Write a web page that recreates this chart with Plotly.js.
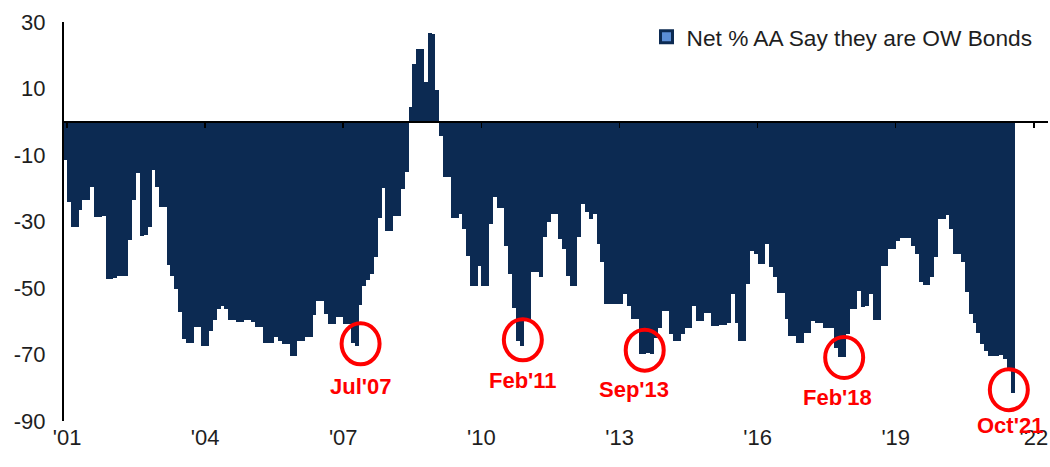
<!DOCTYPE html>
<html>
<head>
<meta charset="utf-8">
<script src="https://cdn.plot.ly/plotly-3.0.1.min.js"></script>
<style>
  html, body { margin: 0; padding: 0; background: #ffffff; }
  #chart { width: 1050px; height: 467px; }
</style>
</head>
<body>
<div id="chart"></div>
<script>
// ---- DATA (monthly, Mar 2001 – Oct 2021) ----
const seriesName = 'Net % AA Say they are OW Bonds';
const firstYear = 2001;
const firstMonthIndex = 2; // March (0-based)

const owBonds2001_2005 = [
  -11.5, -24.2, -31.6, -31.6, -26.6, -23.5, -23.5, -19.5, -28.5, -28.5,
  -28.3, -47.3, -47.2, -47.0, -46.4, -46.4, -46.3, -35.5, -23.4, -15.4, -34.3, -34.2,
  -31.6, -14.5, -19.5, -25.5, -25.5, -43.2, -46.5, -50.2, -57.3, -65.3, -66.6, -66.6,
  -61.8, -61.8, -67.5, -67.5, -63.0, -59.6, -56.3, -55.5, -56.3, -59.6, -59.6, -60.3,
  -60.3, -59.6, -59.6, -60.3, -61.8, -61.8, -66.6, -66.6, -66.6, -64.8, -65.8, -66.8
];
const owBonds2006_2010 = [
  -66.8, -70.3, -70.3, -65.8, -65.8, -64.8, -64.8, -58.0, -53.8, -53.8, -57.8, -60.8,
  -60.8, -58.8, -58.8, -60.8, -60.8, -66.5, -67.4, -55.0, -49.3, -47.5, -45.7, -40.8,
  -29.0, -20.0, -33.0, -33.0, -28.4, -28.4, -20.2, -15.2, 4.4, 17.4, 22.0, 22.0,
  11.9, 26.8, 26.5, 9.6, -4.2, -16.7, -16.7, -28.8, -28.8, -27.7, -32.3, -40.3,
  -49.3, -49.3, -43.4, -49.3, -49.3, -30.8, -22.7, -25.8, -25.8, -37.3, -45.8, -55.9
];
const owBonds2011_2015 = [
  -66.0, -67.4, -59.4, -59.4, -45.3, -45.3, -46.8, -34.8, -30.0, -27.7, -27.7, -35.3,
  -38.3, -46.3, -49.3, -49.3, -34.8, -24.7, -27.0, -29.2, -27.7, -36.8, -42.3, -54.9,
  -54.9, -54.9, -54.9, -54.9, -51.8, -55.5, -59.4, -59.4, -69.9, -69.9, -69.5, -69.9,
  -64.9, -61.9, -56.9, -56.9, -63.9, -65.9, -65.9, -63.9, -61.9, -61.9, -55.4, -59.9,
  -59.9, -57.4, -57.4, -61.4, -61.4, -61.0, -61.0, -60.5, -51.8, -60.4, -65.9, -65.9
];
const owBonds2016_2021 = [
  -48.8, -38.8, -39.8, -42.8, -42.8, -36.8, -43.8, -46.8, -51.4, -51.4, -59.4, -64.4,
  -64.4, -66.4, -66.4, -63.4, -63.4, -59.9, -60.4, -60.4, -61.9, -61.9, -61.9, -67.9,
  -70.9, -70.9, -63.9, -56.4, -56.4, -50.8, -55.6, -55.4, -51.8, -59.7, -59.7, -43.3,
  -43.3, -38.3, -38.3, -35.8, -35.0, -35.0, -35.0, -37.3, -39.8, -48.3, -49.1, -49.1,
  -46.8, -40.8, -29.3, -29.3, -28.0, -32.3, -39.8, -39.8, -42.3, -51.3, -57.7, -60.4,
  -63.4, -66.9, -68.9, -70.4, -70.4, -70.4, -70.0, -71.4, -74.4, -81.5
];

const yTickValues = [30, 10, -10, -30, -50, -70, -90];
const yTickLabels = ['30', '10', '-10', '-30', '-50', '-70', '-90'];
const xTickYears  = [2001, 2004, 2007, 2010, 2013, 2016, 2019, 2022];
const xTickLabels = ["'01", "'04", "'07", "'10", "'13", "'16", "'19", "'22"];

const callouts = [
  { label: "Jul'07", month: '2007-07' },
  { label: "Feb'11", month: '2011-02' },
  { label: "Sep'13", month: '2013-09' },
  { label: "Feb'18", month: '2018-02' },
  { label: "Oct'21", month: '2021-10' }
];

// ---- BUILD ----
const values = [].concat(owBonds2001_2005, owBonds2006_2010, owBonds2011_2015, owBonds2016_2021);
const pad = n => (n < 10 ? '0' : '') + n;
const monthKeys = values.map((_, i) => {
  const m = firstMonthIndex + i;
  return (firstYear + Math.floor(m / 12)) + '-' + pad(m % 12 + 1);
});
const xDates = monthKeys.map(k => k + '-16');
const xTickVals = xTickYears.map(y => y + '-04-01');

// styles
const NAVY = '#0C2A52';
const RED = '#FF0000';
const TEXT = '#1e1e1e';
const FONT = 'Liberation Sans, Arial, sans-serif';
const DAY = 24 * 3600 * 1000;
const xRange = ['2001-03-08', '2022-07-22'];
const circleOffsets = [[4, 2], [1, 6], [4, 4], [0, 0], [-4, 3]];   // px shift (right, up)
const labelOffsets  = [[4, -41], [1, -35], [-7, -35], [-7, -40], [-3, -33]];

const traces = [
  {
    type: 'bar', x: xDates, y: values, name: seriesName, showlegend: false,
    width: 31 * DAY, marker: { color: NAVY, line: { width: 0 } },
    hoverinfo: 'x+y'
  },
  {
    // legend swatch only (zero-height bar on the zero-line axis)
    type: 'bar', x: [xDates[0]], y: [0], name: seriesName, xaxis: 'x2', showlegend: true,
    marker: { color: '#5B8ED6', line: { color: NAVY, width: 3 } }, hoverinfo: 'skip'
  }
];

const shapes = [];
const annotations = [];
callouts.forEach((c, k) => {
  const idx = monthKeys.indexOf(c.month);
  const xv = xDates[idx], yv = values[idx];
  const [cdx, cdy] = circleOffsets[k];
  shapes.push({
    type: 'circle', xref: 'x', yref: 'y', xsizemode: 'pixel', ysizemode: 'pixel',
    xanchor: xv, yanchor: yv,
    x0: cdx - 19, x1: cdx + 19, y0: cdy - 20.5, y1: cdy + 20.5,
    line: { color: RED, width: 4 }, fillcolor: 'rgba(0,0,0,0)', layer: 'above'
  });
  const [ldx, ldy] = labelOffsets[k];
  annotations.push({
    xref: 'x', yref: 'y', x: xv, y: yv, text: '<b>' + c.label + '</b>', showarrow: false,
    xshift: ldx, yshift: ldy, font: { family: FONT, size: 22, color: RED },
    xanchor: 'center', yanchor: 'middle'
  });
});

const layout = {
  width: 1050, height: 467,
  margin: { l: 64, r: 2, t: 22, b: 46, pad: 0 },
  paper_bgcolor: '#ffffff', plot_bgcolor: '#ffffff',
  font: { family: FONT, size: 22, color: TEXT },
  bargap: 0,
  showlegend: true,
  legend: {
    x: 0.592, xanchor: 'left', y: 1.016, yanchor: 'top',
    bgcolor: 'rgba(0,0,0,0)', font: { family: FONT, size: 22.7, color: TEXT }
  },
  xaxis: {
    type: 'date', range: xRange, showgrid: false, zeroline: false, showline: false,
    ticks: '', tickvals: xTickVals, ticktext: xTickLabels, ticklabelstandoff: 1,
    tickfont: { family: FONT, size: 22, color: TEXT }, fixedrange: true
  },
  xaxis2: {
    type: 'date', range: xRange, overlaying: 'x', anchor: 'free', position: 0.75, side: 'bottom',
    showgrid: false, zeroline: false, showline: true, linecolor: '#000000', linewidth: 2,
    ticks: 'outside', ticklen: 5, tickwidth: 1.5, tickcolor: '#000000',
    tickvals: xTickVals, showticklabels: false, fixedrange: true
  },
  yaxis: {
    range: [-90, 30], showgrid: false, zeroline: false, showline: true,
    linecolor: '#000000', linewidth: 2, ticks: '',
    tickvals: yTickValues, ticktext: yTickLabels, ticklabelstandoff: 12,
    tickfont: { family: FONT, size: 22, color: TEXT }, fixedrange: true
  },
  shapes: shapes,
  annotations: annotations
};

Plotly.newPlot('chart', traces, layout, { displayModeBar: false, staticPlot: true });
</script>
</body>
</html>
